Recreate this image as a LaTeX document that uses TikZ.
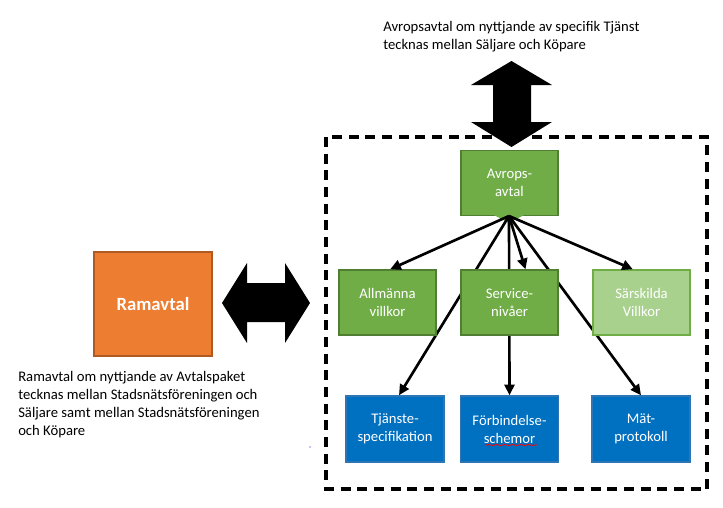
\documentclass[tikz,border=0pt]{standalone}
\usepackage{fontspec}
\setmainfont{Carlito}
\usetikzlibrary{arrows.meta,decorations.pathmorphing}
\definecolor{grn}{HTML}{70AD47}
\definecolor{grnd}{HTML}{507E32}
\definecolor{grnl}{HTML}{A9D18E}
\definecolor{blu}{HTML}{0070C0}
\definecolor{blub}{HTML}{2E75B6}
\definecolor{org}{HTML}{ED7D31}
\definecolor{orgd}{HTML}{AE5A21}
\tikzset{
  boxbase/.style={rectangle, line width=1.1pt, text=white, align=center, inner sep=0pt,
    font=\fontsize{11}{13.5}\selectfont},
  greenbox/.style={boxbase, fill=grn, draw=grnd, minimum width=72.75pt, minimum height=48.75pt},
  lightbox/.style={boxbase, fill=grnl, draw=grn, minimum width=72.75pt, minimum height=48.75pt},
  bluebox/.style={boxbase, fill=blu, draw=blub, minimum width=73.5pt, minimum height=49.5pt},
  conn/.style={line width=2pt, -{Triangle[length=8pt,width=7.5pt]}},
  note/.style={align=left, inner sep=0pt, anchor=north west, font=\fontsize{11}{13.5}\selectfont},
}
\begin{document}
\begin{tikzpicture}[x=0.75pt,y=-0.75pt]
\useasboundingbox (0,0) rectangle (723,507);
% dashed frame
\draw[line width=2.5pt, dash pattern=on 7.5pt off 5pt] (326,137) rectangle (707,489);
% vertical block arrow
\fill[black] (511.5,61) -- (552,85) -- (531,85) -- (531,122) -- (552,122) -- (511.5,147)
  -- (471,122) -- (493,122) -- (493,85) -- (471,85) -- cycle;
% horizontal block arrow
\fill[black] (222,303) -- (247,263) -- (247,283) -- (285,283) -- (285,263) -- (310,303)
  -- (285,343) -- (285,322) -- (247,322) -- (247,343) -- cycle;
% nodes (positions)
\node[greenbox] (avr) at (509.5,183) {Avrops-\\avtal};
\fill[grn] (492,214) -- (526,214) -- (509,223) -- cycle;
\coordinate (src) at (509,216);
\node[bluebox] (tja) at (395,429) {Tjänste-\\specifikation};
\node[bluebox] (forb) at (509.5,429) {Förbindelse-\\schemor};
\node[bluebox] (mat) at (641,429) {Mät-\\protokoll};
% connectors (behind second row boxes)
\draw[conn] (src) -- ([xshift=3pt]tja.north);
\draw[conn] (src) -- (forb.north);
\draw[conn] (src) -- (mat.north);
\node[greenbox] (allm) at (387.5,302.5) {Allmänna\\villkor};
\node[greenbox] (serv) at (509.5,302.5) {Service-\\nivåer};
\node[lightbox] (sars) at (641.5,302.5) {Särskilda\\Villkor};
\draw[conn] (src) -- ([xshift=2pt]allm.north);
\draw[conn] (src) -- ([xshift=12pt]serv.north);
\draw[conn] (src) -- ([xshift=-6.5pt]sars.north);
% spell-check squiggle
\draw[red, line width=0.4pt, decorate, decoration={snake, amplitude=0.5pt, segment length=2pt}] (485,445) -- (537,445);
% Ramavtal
\node[rectangle, fill=org, draw=orgd, line width=1.1pt, minimum width=88.5pt, minimum height=78pt,
  text=white, font=\fontsize{14}{17}\selectfont\bfseries] (ram) at (153,304) {Ramavtal};
% texts
\node[note] (toptxt) at (383,21) {Avropsavtal om nyttjande av specifik Tjänst\\tecknas mellan Säljare och Köpare};
\node[note] (lefttxt) at (18,371) {Ramavtal om nyttjande av Avtalspaket\\tecknas mellan Stadsnätsföreningen och\\Säljare samt mellan Stadsnätsföreningen\\och Köpare};
\fill[blue] (310,447) circle (0.5pt);
\end{tikzpicture}
\end{document}
